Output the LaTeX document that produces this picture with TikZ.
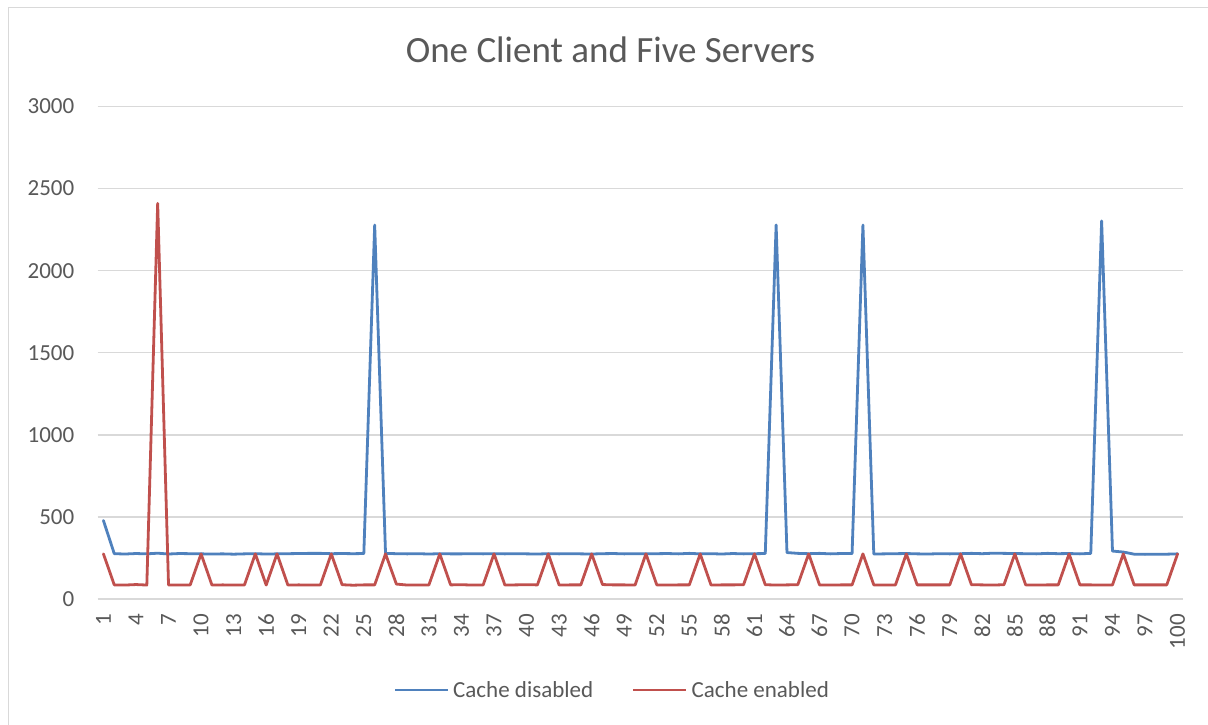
\documentclass[tikz,border=0pt]{standalone}
\usepackage{fontspec}
\setmainfont{Carlito}
\definecolor{txt}{HTML}{595959}
\definecolor{grid}{HTML}{D9D9D9}
\definecolor{frame}{HTML}{D9D9D9}
\definecolor{cdis}{HTML}{4F81BD}
\definecolor{cen}{HTML}{C0504D}
\tikzset{
  gridline/.style={draw=grid, line width=1.4pt},
  series/.style={line width=2.8pt, line join=round, line cap=round},
  ticklab/.style={text=txt, font=\fontsize{23}{23}\selectfont, inner sep=0pt},
  ttl/.style={text=txt, font=\fontsize{37}{37}\selectfont, inner sep=0pt},
}
\begin{document}
\begin{tikzpicture}[x=1pt, y=-1pt]
\useasboundingbox (0,0) rectangle (1208,725);
\fill[white] (0,0) rectangle (1208,725);
% chart frame
\draw[frame, line width=1.3pt] (8.3,725) -- (8.3,7.3) -- (1208,7.3);

% title
\node[ttl] (title) at (610.5,50) {One Client and Five Servers};

% horizontal gridlines and value labels
\foreach \v [count=\k from 0] in {0,500,1000,1500,2000,2500,3000} {
  \pgfmathsetmacro{\yy}{599-\v*0.16417}
  \draw[gridline] (97.5,\yy) -- (1183,\yy);
  \node[ticklab, anchor=east] (yl\k) at (74.5,\yy) {\v};
}

% category labels
\foreach \i in {1,4,...,100} {
  \pgfmathsetmacro{\xx}{92.575+10.85*\i}
  \node[ticklab, rotate=90, anchor=east] (xl\i) at (\xx,614) {\i};
}

% data series
\begin{scope}[shift={(92.575,599)}, x=10.85pt, y=0.16417pt]
\draw[series, cdis] plot coordinates {(1,478)(2,276)(3,274)(4,277)(5,275)(6,279)(7,274)(8,277)(9,276)(10,275)(11,274)(12,275)(13,273)(14,275)(15,276)(16,274)(17,275)(18,276)(19,277)(20,278)(21,278)(22,276)(23,277)(24,276)(25,277)(26,2278)(27,278)(28,276)(29,275)(30,276)(31,274)(32,276)(33,275)(34,275)(35,276)(36,275)(37,276)(38,275)(39,276)(40,275)(41,274)(42,276)(43,275)(44,276)(45,275)(46,274)(47,276)(48,277)(49,275)(50,276)(51,275)(52,276)(53,277)(54,275)(55,278)(56,275)(57,276)(58,274)(59,277)(60,275)(61,276)(62,277)(63,2278)(64,283)(65,278)(66,276)(67,278)(68,275)(69,277)(70,277)(71,2278)(72,274)(73,275)(74,276)(75,277)(76,275)(77,274)(78,276)(79,275)(80,276)(81,278)(82,276)(83,279)(84,278)(85,277)(86,276)(87,275)(88,278)(89,276)(90,277)(91,275)(92,278)(93,2303)(94,292)(95,286)(96,273)(97,272)(98,273)(99,273)(100,275)};
\draw[series, cen] plot coordinates {(1,275)(2,86)(3,85)(4,88)(5,85)(6,2410)(7,86)(8,85)(9,86)(10,275)(11,85)(12,86)(13,85)(14,86)(15,275)(16,85)(17,275)(18,85)(19,86)(20,85)(21,86)(22,275)(23,87)(24,84)(25,86)(26,86)(27,275)(28,91)(29,85)(30,85)(31,86)(32,275)(33,86)(34,87)(35,85)(36,86)(37,275)(38,85)(39,86)(40,87)(41,86)(42,275)(43,85)(44,86)(45,86)(46,275)(47,88)(48,86)(49,86)(50,85)(51,275)(52,86)(53,85)(54,86)(55,86)(56,275)(57,85)(58,86)(59,86)(60,87)(61,275)(62,87)(63,85)(64,86)(65,87)(66,275)(67,86)(68,85)(69,86)(70,86)(71,275)(72,86)(73,85)(74,86)(75,275)(76,86)(77,86)(78,86)(79,86)(80,275)(81,87)(82,86)(83,85)(84,87)(85,275)(86,86)(87,85)(88,86)(89,86)(90,275)(91,86)(92,86)(93,85)(94,86)(95,275)(96,86)(97,86)(98,86)(99,86)(100,275)};
\end{scope}

% legend
\coordinate (ldA) at (395,690);
\coordinate (ldB) at (448,690);
\coordinate (leA) at (633,690);
\coordinate (leB) at (686,690);
\draw[cdis, line width=2.8pt] (ldA) -- (ldB);
\node[ticklab, anchor=west] (ldtext) at (453,690) {Cache disabled};
\draw[cen, line width=2.8pt] (leA) -- (leB);
\node[ticklab, anchor=west] (letext) at (691.5,690) {Cache enabled};
\end{tikzpicture}
\end{document}
